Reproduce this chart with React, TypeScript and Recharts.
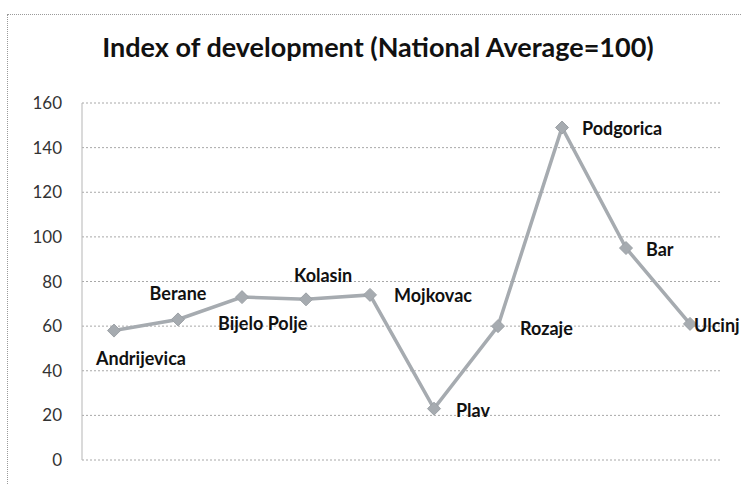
import { LineChart, Line, XAxis, YAxis, CartesianGrid, LabelList } from 'recharts'

const towns = ['Andrijevica', 'Berane', 'Bijelo Polje', 'Kolasin', 'Mojkovac', 'Plav', 'Rozaje', 'Podgorica', 'Bar', 'Ulcinj']
const indexValues = [58, 63, 73, 72, 74, 23, 60, 149, 95, 61]
const yTicks = [0, 20, 40, 60, 80, 100, 120, 140, 160]

// where each label sits relative to its point (Excel had them hand placed)
const labelOffsets: [number, number, 'start' | 'middle'][] = [
  [-18, 28, 'start'],
  [0, -26, 'middle'],
  [-24, 27, 'start'],
  [-12, -24, 'start'],
  [24, 1, 'start'],
  [22, 2, 'start'],
  [22, 3, 'start'],
  [20, 1, 'start'],
  [20, 2, 'start'],
  [4, 2, 'start'],
]

const data = towns.map((town, i) => ({ town, value: indexValues[i] }))

const FONT = 'Lato, "Open Sans", sans-serif'

function TownLabel(props: any) {
  const { x, y, index } = props
  const [dx, dy, anchor] = labelOffsets[index]
  return (
    <text x={x + dx} y={y + dy} dy="0.35em" textAnchor={anchor} fontFamily={FONT} fontWeight={700} fontSize={18} fill="#111">
      {towns[index]}
    </text>
  )
}

function Diamond(props: any) {
  const { cx, cy } = props
  const r = 6.5
  return <path d={`M${cx},${cy - r}L${cx + r},${cy}L${cx},${cy + r}L${cx - r},${cy}Z`} fill="#a6abb0" stroke="#9ca1a6" strokeWidth={1} />
}

export default function App() {
  return (
    <div style={{ position: 'absolute', left: 0, top: 0, width: 742, height: 484, background: '#fff', overflow: 'hidden' }}>
      <div style={{ position: 'absolute', left: 7, top: 14, width: 760, height: 500, border: '1px dotted #9a9a9a' }} />
      <div style={{ position: 'absolute', left: 0, top: 30, width: 756, textAlign: 'center', fontFamily: FONT, fontWeight: 700, fontSize: 27, color: '#111' }}>
        Index of development (National Average=100)
      </div>
      <LineChart width={742} height={484} data={data} margin={{ top: 103, right: 20, bottom: 24, left: 0 }} style={{ position: 'absolute', left: 0, top: 0 }}>
        <CartesianGrid horizontal vertical={false} stroke="#a8a8a8" strokeDasharray="2 2" />
        <XAxis dataKey="town" tick={false} axisLine={false} tickLine={false} height={0} padding={{ left: 32, right: 32 }} />
        <YAxis
          domain={[0, 160]}
          ticks={yTicks}
          width={82}
          tickLine={false}
          axisLine={{ stroke: '#b5b5b5' }}
          tickSize={0}
          tickMargin={20}
          tick={{ fontFamily: FONT, fontSize: 17, fill: '#333' }}
        />
        <Line
          dataKey="value"
          stroke="#a6abb0"
          strokeWidth={3.5}
          dot={<Diamond />}
          activeDot={false}
          isAnimationActive={false}
        >
          <LabelList dataKey="value" content={<TownLabel />} />
        </Line>
      </LineChart>
    </div>
  )
}
